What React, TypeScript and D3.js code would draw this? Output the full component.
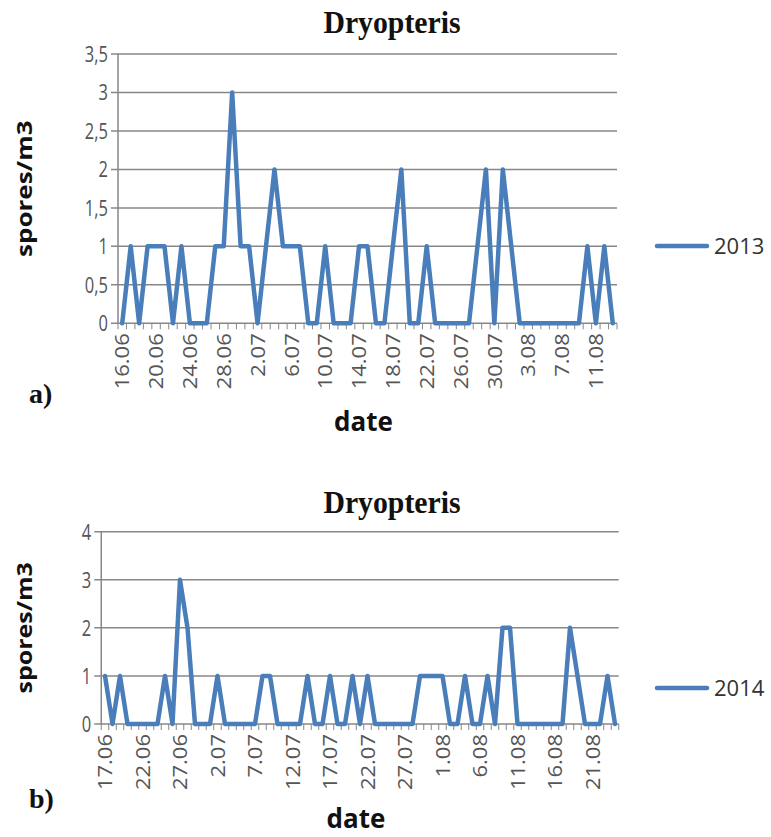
import React from "react";
import * as d3 from "d3";

const dates2013 = [
  "16.06","17.06","18.06","19.06","20.06","21.06","22.06","23.06","24.06","25.06","26.06","27.06","28.06","29.06","30.06",
  "1.07","2.07","3.07","4.07","5.07","6.07","7.07","8.07","9.07","10.07","11.07","12.07","13.07","14.07","15.07","16.07",
  "17.07","18.07","19.07","20.07","21.07","22.07","23.07","24.07","25.07","26.07","27.07","28.07","29.07","30.07","31.07",
  "1.08","2.08","3.08","4.08","5.08","6.08","7.08","8.08","9.08","10.08","11.08","12.08","13.08",
];
const values2013 = [
  0,1,0,1,1,1,0,1,0,0,0,1,1,3,1,1,0,1,2,1,1,1,0,0,1,0,0,0,1,1,
  0,0,1,2,0,0,1,0,0,0,0,0,1,2,0,2,1,0,0,0,0,0,0,0,0,1,0,1,0,
];
const ticks2013 = ["16.06","20.06","24.06","28.06","2.07","6.07","10.07","14.07","18.07","22.07","26.07","30.07","3.08","7.08","11.08"];
const yTicks2013 = [0,0.5,1,1.5,2,2.5,3,3.5];

const dates2014 = [
  "17.06","18.06","19.06","20.06","21.06","22.06","23.06","24.06","25.06","26.06","27.06","28.06","29.06","30.06",
  "1.07","2.07","3.07","4.07","5.07","6.07","7.07","8.07","9.07","10.07","11.07","12.07","13.07","14.07","15.07","16.07",
  "17.07","18.07","19.07","20.07","21.07","22.07","23.07","24.07","25.07","26.07","27.07","28.07","29.07","30.07","31.07",
  "1.08","2.08","3.08","4.08","5.08","6.08","7.08","8.08","9.08","10.08","11.08","12.08","13.08","14.08","15.08","16.08",
  "17.08","18.08","19.08","20.08","21.08","22.08","23.08","24.08",
];
const values2014 = [
  1,0,1,0,0,0,0,0,1,0,3,2,0,0,0,1,0,0,0,0,0,1,1,0,0,0,0,1,0,0,
  1,0,0,1,0,1,0,0,0,0,0,0,1,1,1,1,0,0,1,0,0,1,0,2,2,0,0,0,0,0,
  0,0,2,1,0,0,0,1,0,
];
const ticks2014 = ["17.06","22.06","27.06","2.07","7.07","12.07","17.07","22.07","27.07","1.08","6.08","11.08","16.08","21.08"];
const yTicks2014 = [0,1,2,3,4];

const LINE = "#4A7EBB";
const GRID = "#878787";
const TXT = "#555";
const SANS = "'Open Sans', 'Noto Sans', sans-serif";
const SERIF = "'Liberation Serif', 'DejaVu Serif', serif";

type PanelProps = {
  dates: string[]; values: number[]; ticks: string[]; yTicks: number[]; yMax: number;
  left: number; right: number; top: number; bottom: number;
  titleY: number; label: string; labelY: number; dateY: number; legendY: number; series: string;
  yTitleSize: number;
};

function Panel(p: PanelProps) {
  const x = d3.scaleBand<string>().domain(p.dates).range([p.left, p.right]).paddingInner(0).paddingOuter(0);
  const y = d3.scaleLinear().domain([0, p.yMax]).range([p.bottom, p.top]);
  const cx = (d: string) => (x(d) as number) + x.bandwidth() / 2;
  const line = d3.line<number>().x((_, i) => cx(p.dates[i])).y((v) => y(v));
  const fmt = (v: number) => String(v).replace(".", ",");
  const bounds = p.dates.map((d) => x(d) as number).concat([p.right]);
  return (
    <g>
      <text transform={`translate(392,${p.titleY}) scale(0.93,1)`} textAnchor="middle" fontFamily={SERIF}
        fontWeight="bold" fontSize={32} fill="#111">Dryopteris</text>
      {p.yTicks.map((t) => (
        <g key={t}>
          <line x1={p.left - 7} x2={p.right} y1={y(t)} y2={y(t)} stroke={GRID} strokeWidth={1.5} />
          <text transform={`translate(${p.left - 10},${y(t)}) scale(0.75,1)`} dy="0.36em" textAnchor="end"
            fontFamily={SANS} fontSize={22} fill={TXT}>{fmt(t)}</text>
        </g>
      ))}
      <line x1={p.left} x2={p.left} y1={p.top} y2={p.bottom} stroke={GRID} strokeWidth={1.5} />
      {bounds.map((b, i) => (
        <line key={i} x1={b} x2={b} y1={p.bottom} y2={p.bottom + 6} stroke={GRID} strokeWidth={1} />
      ))}
      {p.ticks.map((t) => (
        <text key={t} transform={`translate(${cx(t)},${p.bottom + 10}) rotate(-90) scale(1,0.9)`} dy="0.36em" textAnchor="end"
          fontFamily={SANS} fontSize={22} fill={TXT}>{t}</text>
      ))}
      <path d={line(p.values) as string} fill="none" stroke={LINE} strokeWidth={4.5} strokeLinejoin="round" strokeLinecap="round" />
      <text transform={`translate(24,${(p.top + p.bottom) / 2}) rotate(-90) scale(1,0.85)`} dy="0.36em" textAnchor="middle"
        fontFamily={SANS} fontWeight="bold" fontSize={p.yTitleSize} fill="#111">spores/m3</text>
      <text x={(p.left + p.right) / 2 - 4} y={p.dateY} textAnchor="middle" fontFamily={SANS} fontWeight="bold"
        fontSize={26} fill="#111">date</text>
      <text x={29} y={p.labelY} fontFamily={SERIF} fontWeight="bold" fontSize={28} fill="#111">{p.label}</text>
      <line x1={657} x2={707} y1={p.legendY} y2={p.legendY} stroke={LINE} strokeWidth={4.5} strokeLinecap="round" />
      <text x={714} y={p.legendY} dy="0.36em" fontFamily={SANS} fontSize={22} fill="#333">{p.series}</text>
    </g>
  );
}

export default function App() {
  return (
    <svg width={771} height={837} style={{ position: "absolute", left: 0, top: 0, background: "#fff" }}>
      <rect width={771} height={837} fill="#fff" />
      <Panel dates={dates2013} values={values2013} ticks={ticks2013} yTicks={yTicks2013} yMax={3.5}
        left={118} right={617} top={54} bottom={323.3} titleY={33} label="a)" labelY={403} dateY={431}
        legendY={246} series="2013" yTitleSize={26} />
      <Panel dates={dates2014} values={values2014} ticks={ticks2014} yTicks={yTicks2014} yMax={4}
        left={101.25} right={618.75} top={531.7} bottom={724} titleY={513} label="b)" labelY={808} dateY={828}
        legendY={688} series="2014" yTitleSize={25} />
    </svg>
  );
}
